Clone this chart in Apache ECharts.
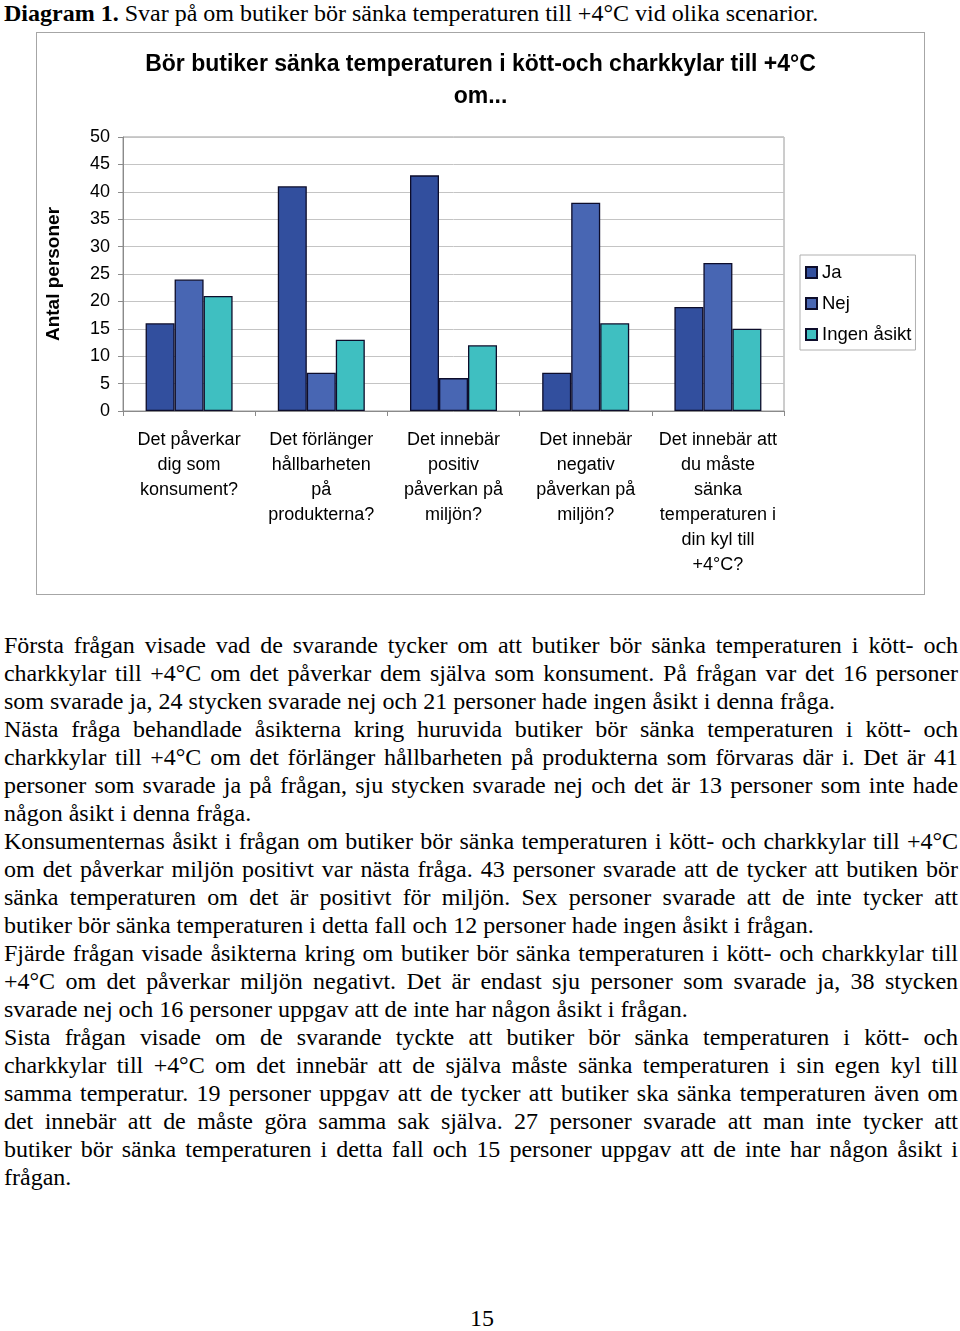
<!DOCTYPE html>
<html>
<head>
    <meta charset="utf-8">
    <title>Diagram 1</title>
    <script src="https://cdn.jsdelivr.net/npm/echarts@6/dist/echarts.min.js"></script>
    <style>
        body { margin: 0; background: #fff; width: 960px; height: 1331px; position: relative; font-family: "Liberation Serif", serif; color: #000; }
        .caption { position: absolute; left: 4px; top: -1px; font-size: 24px; line-height: 28px; white-space: nowrap; }
        #chart1 { position: absolute; left: 36px; top: 32px; width: 887px; height: 561px; border: 1px solid #a6a6a6; }
        .text { position: absolute; left: 4px; top: 631px; width: 954px; font-size: 24px; }
        .text div { height: 28px; line-height: 28px; white-space: nowrap; }
        .text .j { text-align: justify; text-align-last: justify; }
        .pagenr { position: absolute; left: 0; width: 964px; top: 1305px; text-align: center; font-size: 24px; }
    </style>
</head>
<body>
<div class="caption"><b>Diagram 1.</b> Svar på om butiker bör sänka temperaturen till +4°C vid olika scenarior.</div>
<!-- diagrammet -->
<div id="chart1"></div>
<div class="text">
    <div class="j">Första frågan visade vad de svarande tycker om att butiker bör sänka temperaturen i kött- och</div>
    <div class="j">charkkylar till +4°C om det påverkar dem själva som konsument. På frågan var det 16 personer</div>
    <div>som svarade ja, 24 stycken svarade nej och 21 personer hade ingen åsikt i denna fråga.</div>
    <div class="j">Nästa fråga behandlade åsikterna kring huruvida butiker bör sänka temperaturen i kött- och</div>
    <div class="j">charkkylar till +4°C om det förlänger hållbarheten på produkterna som förvaras där i. Det är 41</div>
    <div class="j">personer som svarade ja på frågan, sju stycken svarade nej och det är 13 personer som inte hade</div>
    <div>någon åsikt i denna fråga.</div>
    <div class="j">Konsumenternas åsikt i frågan om butiker bör sänka temperaturen i kött- och charkkylar till +4°C</div>
    <div class="j">om det påverkar miljön positivt var nästa fråga. 43 personer svarade att de tycker att butiken bör</div>
    <div class="j">sänka temperaturen om det är positivt för miljön. Sex personer svarade att de inte tycker att</div>
    <div>butiker bör sänka temperaturen i detta fall och 12 personer hade ingen åsikt i frågan.</div>
    <div class="j">Fjärde frågan visade åsikterna kring om butiker bör sänka temperaturen i kött- och charkkylar till</div>
    <div class="j">+4°C om det påverkar miljön negativt. Det är endast sju personer som svarade ja, 38 stycken</div>
    <div>svarade nej och 16 personer uppgav att de inte har någon åsikt i frågan.</div>
    <div class="j">Sista frågan visade om de svarande tyckte att butiker bör sänka temperaturen i kött- och</div>
    <div class="j">charkkylar till +4°C om det innebär att de själva måste sänka temperaturen i sin egen kyl till</div>
    <div class="j">samma temperatur. 19 personer uppgav att de tycker att butiker ska sänka temperaturen även om</div>
    <div class="j">det innebär att de måste göra samma sak själva. 27 personer svarade att man inte tycker att</div>
    <div class="j">butiker bör sänka temperaturen i detta fall och 15 personer uppgav att de inte har någon åsikt i</div>
    <div>frågan.</div>
</div>
<div class="pagenr">15</div>
<script>
    // data
    var categories = [
        'Det påverkar\ndig som\nkonsument?',
        'Det förlänger\nhållbarheten\npå\nprodukterna?',
        'Det innebär\npositiv\npåverkan på\nmiljön?',
        'Det innebär\nnegativ\npåverkan på\nmiljön?',
        'Det innebär att\ndu måste\nsänka\ntemperaturen i\ndin kyl till\n+4°C?'
    ];
    var ja = [16, 41, 43, 7, 19];
    var nej = [24, 7, 6, 38, 27];
    var ingenAsikt = [21, 13, 12, 16, 15];
    var yTicks = [0, 5, 10, 15, 20, 25, 30, 35, 40, 45, 50];

    // rader som är för långa krymps lite så att de får plats
    var lines = document.querySelectorAll('.text div');
    for (var i = 0; i < lines.length; i++) {
        var el = lines[i];
        var span = document.createElement('span');
        span.textContent = el.textContent;
        el.textContent = '';
        el.appendChild(span);
        var w = span.getBoundingClientRect().width;
        el.textContent = span.textContent;
        if (w > 950) {
            el.style.letterSpacing = (-(w - 950) / el.textContent.length) + 'px';
        }
    }

    var font = '"Liberation Sans", Arial, sans-serif';
    var myChart1 = echarts.init(document.getElementById('chart1'));

    function bar(name, data, color) {
        return {
            name: name,
            type: 'bar',
            data: data,
            barWidth: 29,
            barGap: '0%',
            itemStyle: { color: color, borderColor: '#0d0d2b', borderWidth: 1.3 }
        };
    }

    myChart1.setOption({
        animation: false,
        title: {
            text: 'Bör butiker sänka temperaturen i kött-och charkkylar till +4°C\nom...',
            left: 'center',
            top: 11,
            textStyle: { fontFamily: font, fontSize: 23, fontWeight: 'bold', lineHeight: 32, color: '#000' }
        },
        legend: {
            orient: 'vertical',
            left: 763,
            top: 222,
            padding: [8, 4, 6, 5],
            itemGap: 12,
            itemWidth: 11,
            itemHeight: 11,
            icon: 'rect',
            borderColor: '#b0b0b0',
            borderWidth: 1,
            textStyle: { fontFamily: font, fontSize: 18.5, color: '#000' },
            data: ['Ja', 'Nej', 'Ingen åsikt']
        },
        grid: {
            left: 86,
            right: 140,
            top: 104,
            bottom: 183,
            show: true,
            borderColor: '#9a9a9a',
            borderWidth: 1,
            containLabel: false,
            outerBoundsMode: 'none'
        },
        xAxis: {
            type: 'category',
            data: categories,
            axisLine: { lineStyle: { color: '#8a8a8a' } },
            axisTick: { show: true, length: 5, lineStyle: { color: '#8a8a8a' } },
            axisLabel: { interval: 0, fontFamily: font, fontSize: 18, lineHeight: 25, color: '#000', margin: 17 }
        },
        yAxis: {
            type: 'value',
            min: yTicks[0],
            max: yTicks[yTicks.length - 1],
            interval: 5,
            name: 'Antal personer',
            nameLocation: 'middle',
            nameGap: 60,
            nameTextStyle: { fontFamily: font, fontSize: 19, fontWeight: 'bold', color: '#000' },
            axisLine: { show: true, lineStyle: { color: '#8a8a8a' } },
            axisTick: { show: true, length: 5, lineStyle: { color: '#8a8a8a' } },
            axisLabel: { fontFamily: font, fontSize: 18, color: '#000', margin: 13 },
            splitLine: { lineStyle: { color: '#c4c4c4' } }
        },
        series: [
            bar('Ja', ja, '#324f9e'),
            bar('Nej', nej, '#4866b3'),
            bar('Ingen åsikt', ingenAsikt, '#3fbfc1')
        ]
    });
</script>
</body>
</html>
